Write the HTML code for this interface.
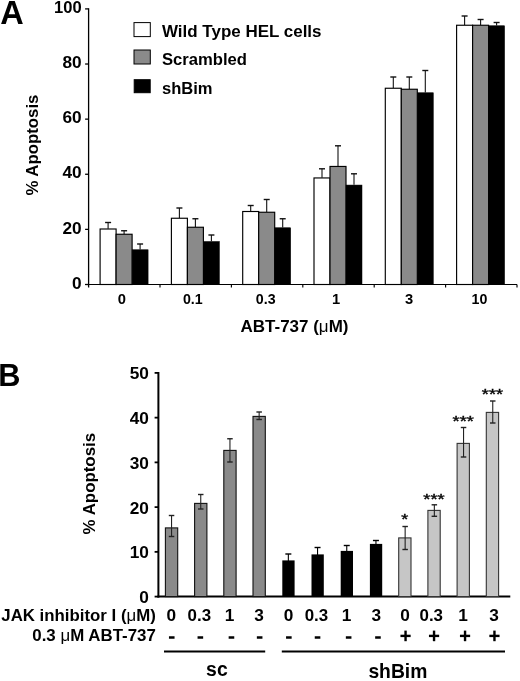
<!DOCTYPE html>
<html lang="en">
<head>
<meta charset="utf-8">
<title>Figure: ABT-737 and JAK inhibitor I apoptosis in HEL cells</title>
<style>
html,body{margin:0;padding:0;background:#fff;}
body{width:520px;height:681px;overflow:hidden;}
svg{display:block;}
svg text{font-family:"Liberation Sans",sans-serif;fill:#000;}
</style>
</head>
<body>
<svg width="520" height="681" viewBox="0 0 520 681">
<rect x="0" y="0" width="520" height="681" fill="#fff" stroke="none"/>
<text x="0.2" y="23.5" font-size="32.5" font-weight="bold" text-anchor="start" >A</text>
<line x1="88.6" y1="8.3" x2="88.6" y2="287.5" stroke="#000" stroke-width="1.3"/>
<line x1="85.1" y1="284.5" x2="88.6" y2="284.5" stroke="#000" stroke-width="1.3"/>
<text x="81.6" y="288.7" font-size="16.3" font-weight="bold" text-anchor="end" textLength="9.6" lengthAdjust="spacingAndGlyphs" >0</text>
<line x1="85.1" y1="229.38" x2="88.6" y2="229.38" stroke="#000" stroke-width="1.3"/>
<text x="81.6" y="233.57999999999998" font-size="16.3" font-weight="bold" text-anchor="end" textLength="19.2" lengthAdjust="spacingAndGlyphs" >20</text>
<line x1="85.1" y1="174.26" x2="88.6" y2="174.26" stroke="#000" stroke-width="1.3"/>
<text x="81.6" y="178.45999999999998" font-size="16.3" font-weight="bold" text-anchor="end" textLength="19.2" lengthAdjust="spacingAndGlyphs" >40</text>
<line x1="85.1" y1="119.13999999999999" x2="88.6" y2="119.13999999999999" stroke="#000" stroke-width="1.3"/>
<text x="81.6" y="123.33999999999999" font-size="16.3" font-weight="bold" text-anchor="end" textLength="19.2" lengthAdjust="spacingAndGlyphs" >60</text>
<line x1="85.1" y1="64.02000000000001" x2="88.6" y2="64.02000000000001" stroke="#000" stroke-width="1.3"/>
<text x="81.6" y="68.22000000000001" font-size="16.3" font-weight="bold" text-anchor="end" textLength="19.2" lengthAdjust="spacingAndGlyphs" >80</text>
<line x1="85.1" y1="8.899999999999977" x2="88.6" y2="8.899999999999977" stroke="#000" stroke-width="1.3"/>
<text x="81.6" y="13.099999999999977" font-size="16.3" font-weight="bold" text-anchor="end" textLength="27.6" lengthAdjust="spacingAndGlyphs" >100</text>
<line x1="85.1" y1="284.5" x2="517" y2="284.5" stroke="#000" stroke-width="1.15"/>
<line x1="160.0" y1="284.5" x2="160.0" y2="287.5" stroke="#000" stroke-width="1.15"/>
<line x1="231.4" y1="284.5" x2="231.4" y2="287.5" stroke="#000" stroke-width="1.15"/>
<line x1="302.8" y1="284.5" x2="302.8" y2="287.5" stroke="#000" stroke-width="1.15"/>
<line x1="374.20000000000005" y1="284.5" x2="374.20000000000005" y2="287.5" stroke="#000" stroke-width="1.15"/>
<line x1="445.6" y1="284.5" x2="445.6" y2="287.5" stroke="#000" stroke-width="1.15"/>
<line x1="517.0" y1="284.5" x2="517.0" y2="287.5" stroke="#000" stroke-width="1.15"/>
<text transform="translate(37.7,195.6) rotate(-90)" font-size="17" font-weight="bold" textLength="101" lengthAdjust="spacingAndGlyphs">% Apoptosis</text>
<rect x="134.00" y="22.60" width="16.30" height="14.00" fill="#fff" stroke="#000" stroke-width="1"/>
<rect x="134.00" y="50.00" width="16.30" height="14.00" fill="#8a8a8a" stroke="#000" stroke-width="1"/>
<rect x="134.20" y="79.70" width="16.00" height="13.00" fill="#000" stroke="#000" stroke-width="1"/>
<text x="162" y="37" font-size="16" font-weight="bold" text-anchor="start" textLength="159.5" lengthAdjust="spacingAndGlyphs" >Wild Type HEL cells</text>
<text x="162" y="65" font-size="16" font-weight="bold" text-anchor="start" textLength="85" lengthAdjust="spacingAndGlyphs" >Scrambled</text>
<text x="162" y="94" font-size="16" font-weight="bold" text-anchor="start" textLength="50.6" lengthAdjust="spacingAndGlyphs" >shBim</text>
<line x1="108.1" y1="222.5" x2="108.1" y2="228.75" stroke="#111" stroke-width="1.1"/>
<line x1="105.1" y1="222.5" x2="111.1" y2="222.5" stroke="#111" stroke-width="1.4000000000000001"/>
<rect x="100.10" y="229.00" width="16.00" height="55.50" fill="#fff" stroke="#000" stroke-width="1.15"/>
<line x1="124.1" y1="230.75" x2="124.1" y2="234" stroke="#111" stroke-width="1.1"/>
<line x1="121.1" y1="230.75" x2="127.1" y2="230.75" stroke="#111" stroke-width="1.4000000000000001"/>
<rect x="116.10" y="234.25" width="16.00" height="50.25" fill="#8a8a8a" stroke="#000" stroke-width="1.15"/>
<line x1="140.1" y1="244" x2="140.1" y2="249.5" stroke="#111" stroke-width="1.1"/>
<line x1="137.1" y1="244" x2="143.1" y2="244" stroke="#111" stroke-width="1.4000000000000001"/>
<rect x="132.10" y="249.75" width="16.00" height="34.75" fill="#000" stroke="#000" stroke-width="0.5"/>
<line x1="179.39999999999998" y1="208" x2="179.39999999999998" y2="218" stroke="#111" stroke-width="1.1"/>
<line x1="176.39999999999998" y1="208" x2="182.39999999999998" y2="208" stroke="#111" stroke-width="1.4000000000000001"/>
<rect x="171.40" y="218.25" width="16.00" height="66.25" fill="#fff" stroke="#000" stroke-width="1.15"/>
<line x1="195.39999999999998" y1="218.75" x2="195.39999999999998" y2="227" stroke="#111" stroke-width="1.1"/>
<line x1="192.39999999999998" y1="218.75" x2="198.39999999999998" y2="218.75" stroke="#111" stroke-width="1.4000000000000001"/>
<rect x="187.40" y="227.25" width="16.00" height="57.25" fill="#8a8a8a" stroke="#000" stroke-width="1.15"/>
<line x1="211.39999999999998" y1="235" x2="211.39999999999998" y2="241.25" stroke="#111" stroke-width="1.1"/>
<line x1="208.39999999999998" y1="235" x2="214.39999999999998" y2="235" stroke="#111" stroke-width="1.4000000000000001"/>
<rect x="203.40" y="241.50" width="16.00" height="43.00" fill="#000" stroke="#000" stroke-width="0.5"/>
<line x1="250.7" y1="205.5" x2="250.7" y2="211.25" stroke="#111" stroke-width="1.1"/>
<line x1="247.7" y1="205.5" x2="253.7" y2="205.5" stroke="#111" stroke-width="1.4000000000000001"/>
<rect x="242.70" y="211.50" width="16.00" height="73.00" fill="#fff" stroke="#000" stroke-width="1.15"/>
<line x1="266.7" y1="199.5" x2="266.7" y2="212" stroke="#111" stroke-width="1.1"/>
<line x1="263.7" y1="199.5" x2="269.7" y2="199.5" stroke="#111" stroke-width="1.4000000000000001"/>
<rect x="258.70" y="212.25" width="16.00" height="72.25" fill="#8a8a8a" stroke="#000" stroke-width="1.15"/>
<line x1="282.7" y1="218.75" x2="282.7" y2="227.5" stroke="#111" stroke-width="1.1"/>
<line x1="279.7" y1="218.75" x2="285.7" y2="218.75" stroke="#111" stroke-width="1.4000000000000001"/>
<rect x="274.70" y="227.75" width="16.00" height="56.75" fill="#000" stroke="#000" stroke-width="0.5"/>
<line x1="322.0" y1="168.8" x2="322.0" y2="177.7" stroke="#111" stroke-width="1.1"/>
<line x1="319.0" y1="168.8" x2="325.0" y2="168.8" stroke="#111" stroke-width="1.4000000000000001"/>
<rect x="314.00" y="177.95" width="16.00" height="106.55" fill="#fff" stroke="#000" stroke-width="1.15"/>
<line x1="338.0" y1="145.8" x2="338.0" y2="166.2" stroke="#111" stroke-width="1.1"/>
<line x1="335.0" y1="145.8" x2="341.0" y2="145.8" stroke="#111" stroke-width="1.4000000000000001"/>
<rect x="330.00" y="166.45" width="16.00" height="118.05" fill="#8a8a8a" stroke="#000" stroke-width="1.15"/>
<line x1="354.0" y1="173.8" x2="354.0" y2="184.8" stroke="#111" stroke-width="1.1"/>
<line x1="351.0" y1="173.8" x2="357.0" y2="173.8" stroke="#111" stroke-width="1.4000000000000001"/>
<rect x="346.00" y="185.05" width="16.00" height="99.45" fill="#000" stroke="#000" stroke-width="0.5"/>
<line x1="393.29999999999995" y1="77" x2="393.29999999999995" y2="88" stroke="#111" stroke-width="1.1"/>
<line x1="390.29999999999995" y1="77" x2="396.29999999999995" y2="77" stroke="#111" stroke-width="1.4000000000000001"/>
<rect x="385.30" y="88.25" width="16.00" height="196.25" fill="#fff" stroke="#000" stroke-width="1.15"/>
<line x1="409.29999999999995" y1="77" x2="409.29999999999995" y2="89" stroke="#111" stroke-width="1.1"/>
<line x1="406.29999999999995" y1="77" x2="412.29999999999995" y2="77" stroke="#111" stroke-width="1.4000000000000001"/>
<rect x="401.30" y="89.25" width="16.00" height="195.25" fill="#8a8a8a" stroke="#000" stroke-width="1.15"/>
<line x1="425.29999999999995" y1="70.5" x2="425.29999999999995" y2="92.5" stroke="#111" stroke-width="1.1"/>
<line x1="422.29999999999995" y1="70.5" x2="428.29999999999995" y2="70.5" stroke="#111" stroke-width="1.4000000000000001"/>
<rect x="417.30" y="92.75" width="16.00" height="191.75" fill="#000" stroke="#000" stroke-width="0.5"/>
<line x1="464.6" y1="16" x2="464.6" y2="25" stroke="#111" stroke-width="1.1"/>
<line x1="461.6" y1="16" x2="467.6" y2="16" stroke="#111" stroke-width="1.4000000000000001"/>
<rect x="456.60" y="25.25" width="16.00" height="259.25" fill="#fff" stroke="#000" stroke-width="1.15"/>
<line x1="480.6" y1="19.5" x2="480.6" y2="25" stroke="#111" stroke-width="1.1"/>
<line x1="477.6" y1="19.5" x2="483.6" y2="19.5" stroke="#111" stroke-width="1.4000000000000001"/>
<rect x="472.60" y="25.25" width="16.00" height="259.25" fill="#8a8a8a" stroke="#000" stroke-width="1.15"/>
<line x1="496.6" y1="22.5" x2="496.6" y2="25.5" stroke="#111" stroke-width="1.1"/>
<line x1="493.6" y1="22.5" x2="499.6" y2="22.5" stroke="#111" stroke-width="1.4000000000000001"/>
<rect x="488.60" y="25.75" width="16.00" height="258.75" fill="#000" stroke="#000" stroke-width="0.5"/>
<text x="121.9" y="304.1" font-size="14" font-weight="bold" text-anchor="middle" textLength="8.2" lengthAdjust="spacingAndGlyphs" >0</text>
<text x="192.79999999999998" y="304.1" font-size="14" font-weight="bold" text-anchor="middle" textLength="19.8" lengthAdjust="spacingAndGlyphs" >0.1</text>
<text x="265.7" y="304.1" font-size="14" font-weight="bold" text-anchor="middle" textLength="19.8" lengthAdjust="spacingAndGlyphs" >0.3</text>
<text x="336.09999999999997" y="304.1" font-size="14" font-weight="bold" text-anchor="middle" textLength="8.2" lengthAdjust="spacingAndGlyphs" >1</text>
<text x="409.1" y="304.1" font-size="14" font-weight="bold" text-anchor="middle" textLength="8.2" lengthAdjust="spacingAndGlyphs" >3</text>
<text x="479.4" y="304.1" font-size="14" font-weight="bold" text-anchor="middle" textLength="15.8" lengthAdjust="spacingAndGlyphs" >10</text>
<text x="240.5" y="332.4" font-size="16.3" font-weight="bold" text-anchor="start" textLength="108" lengthAdjust="spacingAndGlyphs" >ABT-737 (<tspan font-weight="normal">μ</tspan>M)</text>
<text x="-1.7" y="386.4" font-size="32.2" font-weight="bold" text-anchor="start" textLength="22.2" lengthAdjust="spacingAndGlyphs" >B</text>
<line x1="158.4" y1="372.0" x2="158.4" y2="597.6" stroke="#000" stroke-width="2"/>
<line x1="154.6" y1="596.6" x2="158.4" y2="596.6" stroke="#000" stroke-width="1.8"/>
<text x="148.9" y="603.0" font-size="16.3" font-weight="bold" text-anchor="end" textLength="9.6" lengthAdjust="spacingAndGlyphs" >0</text>
<line x1="154.6" y1="551.86" x2="158.4" y2="551.86" stroke="#000" stroke-width="1.8"/>
<text x="148.9" y="558.26" font-size="16.3" font-weight="bold" text-anchor="end" textLength="19.2" lengthAdjust="spacingAndGlyphs" >10</text>
<line x1="154.6" y1="507.12" x2="158.4" y2="507.12" stroke="#000" stroke-width="1.8"/>
<text x="148.9" y="513.52" font-size="16.3" font-weight="bold" text-anchor="end" textLength="19.2" lengthAdjust="spacingAndGlyphs" >20</text>
<line x1="154.6" y1="462.38" x2="158.4" y2="462.38" stroke="#000" stroke-width="1.8"/>
<text x="148.9" y="468.78" font-size="16.3" font-weight="bold" text-anchor="end" textLength="19.2" lengthAdjust="spacingAndGlyphs" >30</text>
<line x1="154.6" y1="417.64" x2="158.4" y2="417.64" stroke="#000" stroke-width="1.8"/>
<text x="148.9" y="424.03999999999996" font-size="16.3" font-weight="bold" text-anchor="end" textLength="19.2" lengthAdjust="spacingAndGlyphs" >40</text>
<line x1="154.6" y1="372.9" x2="158.4" y2="372.9" stroke="#000" stroke-width="1.8"/>
<text x="148.9" y="379.29999999999995" font-size="16.3" font-weight="bold" text-anchor="end" textLength="19.2" lengthAdjust="spacingAndGlyphs" >50</text>
<line x1="157.5" y1="596.6" x2="510.3" y2="596.6" stroke="#000" stroke-width="2"/>
<text transform="translate(94.9,534.4) rotate(-90)" font-size="17" font-weight="bold" textLength="101.5" lengthAdjust="spacingAndGlyphs">% Apoptosis</text>
<rect x="165.40" y="527.90" width="12.30" height="68.70" fill="#8a8a8a" stroke="#111" stroke-width="1.1"/>
<line x1="171.55" y1="515.5" x2="171.55" y2="536.5" stroke="#222" stroke-width="1.1"/>
<line x1="168.8" y1="515.5" x2="174.3" y2="515.5" stroke="#222" stroke-width="1.4000000000000001"/>
<line x1="168.8" y1="536.5" x2="174.3" y2="536.5" stroke="#222" stroke-width="1.4000000000000001"/>
<text x="171.25" y="620.7" font-size="16.3" font-weight="bold" text-anchor="middle" textLength="9.6" lengthAdjust="spacingAndGlyphs" >0</text>
<line x1="168.95" y1="637.5" x2="174.55" y2="637.5" stroke="#000" stroke-width="2.5"/>
<rect x="194.60" y="503.40" width="12.30" height="93.20" fill="#8a8a8a" stroke="#111" stroke-width="1.1"/>
<line x1="200.75" y1="494.5" x2="200.75" y2="509" stroke="#222" stroke-width="1.1"/>
<line x1="198.0" y1="494.5" x2="203.5" y2="494.5" stroke="#222" stroke-width="1.4000000000000001"/>
<line x1="198.0" y1="509" x2="203.5" y2="509" stroke="#222" stroke-width="1.4000000000000001"/>
<text x="199.35" y="620.7" font-size="16.3" font-weight="bold" text-anchor="middle" textLength="23.5" lengthAdjust="spacingAndGlyphs" >0.3</text>
<line x1="197.54999999999998" y1="637.5" x2="203.15" y2="637.5" stroke="#000" stroke-width="2.5"/>
<rect x="223.80" y="450.40" width="12.30" height="146.20" fill="#8a8a8a" stroke="#111" stroke-width="1.1"/>
<line x1="229.95000000000002" y1="438.75" x2="229.95000000000002" y2="462" stroke="#222" stroke-width="1.1"/>
<line x1="227.20000000000002" y1="438.75" x2="232.70000000000002" y2="438.75" stroke="#222" stroke-width="1.4000000000000001"/>
<line x1="227.20000000000002" y1="462" x2="232.70000000000002" y2="462" stroke="#222" stroke-width="1.4000000000000001"/>
<text x="229.65" y="620.7" font-size="16.3" font-weight="bold" text-anchor="middle" textLength="9.6" lengthAdjust="spacingAndGlyphs" >1</text>
<line x1="228.65" y1="637.5" x2="234.25000000000003" y2="637.5" stroke="#000" stroke-width="2.5"/>
<rect x="253.00" y="416.40" width="12.30" height="180.20" fill="#8a8a8a" stroke="#111" stroke-width="1.1"/>
<line x1="259.15" y1="412" x2="259.15" y2="419.5" stroke="#222" stroke-width="1.1"/>
<line x1="256.4" y1="412" x2="261.9" y2="412" stroke="#222" stroke-width="1.4000000000000001"/>
<line x1="256.4" y1="419.5" x2="261.9" y2="419.5" stroke="#222" stroke-width="1.4000000000000001"/>
<text x="259.15" y="620.7" font-size="16.3" font-weight="bold" text-anchor="middle" textLength="9.6" lengthAdjust="spacingAndGlyphs" >3</text>
<line x1="256.84999999999997" y1="637.5" x2="262.45" y2="637.5" stroke="#000" stroke-width="2.5"/>
<line x1="288.34999999999997" y1="554" x2="288.34999999999997" y2="561.5" stroke="#000" stroke-width="1.1"/>
<line x1="285.34999999999997" y1="554" x2="291.34999999999997" y2="554" stroke="#000" stroke-width="1.4000000000000001"/>
<rect x="282.30" y="560.40" width="12.30" height="36.20" fill="#000" stroke="none" stroke-width="0"/>
<text x="288.45" y="620.7" font-size="16.3" font-weight="bold" text-anchor="middle" textLength="9.6" lengthAdjust="spacingAndGlyphs" >0</text>
<line x1="286.04999999999995" y1="637.5" x2="291.65" y2="637.5" stroke="#000" stroke-width="2.5"/>
<line x1="317.54999999999995" y1="547.5" x2="317.54999999999995" y2="555.5" stroke="#000" stroke-width="1.1"/>
<line x1="314.54999999999995" y1="547.5" x2="320.54999999999995" y2="547.5" stroke="#000" stroke-width="1.4000000000000001"/>
<rect x="311.50" y="554.40" width="12.30" height="42.20" fill="#000" stroke="none" stroke-width="0"/>
<text x="316.44999999999993" y="620.7" font-size="16.3" font-weight="bold" text-anchor="middle" textLength="23.5" lengthAdjust="spacingAndGlyphs" >0.3</text>
<line x1="314.74999999999994" y1="637.5" x2="320.34999999999997" y2="637.5" stroke="#000" stroke-width="2.5"/>
<line x1="346.75" y1="545.5" x2="346.75" y2="552" stroke="#000" stroke-width="1.1"/>
<line x1="343.75" y1="545.5" x2="349.75" y2="545.5" stroke="#000" stroke-width="1.4000000000000001"/>
<rect x="340.70" y="550.90" width="12.30" height="45.70" fill="#000" stroke="none" stroke-width="0"/>
<text x="346.55" y="620.7" font-size="16.3" font-weight="bold" text-anchor="middle" textLength="9.6" lengthAdjust="spacingAndGlyphs" >1</text>
<line x1="345.84999999999997" y1="637.5" x2="351.45" y2="637.5" stroke="#000" stroke-width="2.5"/>
<line x1="375.95" y1="540.5" x2="375.95" y2="545" stroke="#000" stroke-width="1.1"/>
<line x1="372.95" y1="540.5" x2="378.95" y2="540.5" stroke="#000" stroke-width="1.4000000000000001"/>
<rect x="369.90" y="543.90" width="12.30" height="52.70" fill="#000" stroke="none" stroke-width="0"/>
<text x="376.34999999999997" y="620.7" font-size="16.3" font-weight="bold" text-anchor="middle" textLength="9.6" lengthAdjust="spacingAndGlyphs" >3</text>
<line x1="375.15" y1="637.5" x2="380.75" y2="637.5" stroke="#000" stroke-width="2.5"/>
<rect x="398.70" y="537.90" width="12.30" height="58.70" fill="#c6c6c6" stroke="#333" stroke-width="1.1"/>
<line x1="405.15" y1="526.5" x2="405.15" y2="549.5" stroke="#222" stroke-width="1.1"/>
<line x1="402.4" y1="526.5" x2="407.9" y2="526.5" stroke="#222" stroke-width="1.4000000000000001"/>
<line x1="402.4" y1="549.5" x2="407.9" y2="549.5" stroke="#222" stroke-width="1.4000000000000001"/>
<text x="404.95" y="620.7" font-size="16.3" font-weight="bold" text-anchor="middle" textLength="9.6" lengthAdjust="spacingAndGlyphs" >0</text>
<line x1="400.44999999999993" y1="635.9" x2="410.65" y2="635.9" stroke="#000" stroke-width="2.4"/>
<line x1="405.54999999999995" y1="630.6" x2="405.54999999999995" y2="641.2" stroke="#000" stroke-width="2.4"/>
<text x="404.84999999999997" y="524" font-size="15.5" font-weight="normal" text-anchor="middle" textLength="7" lengthAdjust="spacingAndGlyphs" stroke="#000" stroke-width="0.4">*</text>
<rect x="427.90" y="510.40" width="12.30" height="86.20" fill="#c6c6c6" stroke="#333" stroke-width="1.1"/>
<line x1="434.35" y1="504.8" x2="434.35" y2="516.3" stroke="#222" stroke-width="1.1"/>
<line x1="431.6" y1="504.8" x2="437.1" y2="504.8" stroke="#222" stroke-width="1.4000000000000001"/>
<line x1="431.6" y1="516.3" x2="437.1" y2="516.3" stroke="#222" stroke-width="1.4000000000000001"/>
<text x="431.25" y="620.7" font-size="16.3" font-weight="bold" text-anchor="middle" textLength="23.5" lengthAdjust="spacingAndGlyphs" >0.3</text>
<line x1="428.95" y1="635.9" x2="439.15000000000003" y2="635.9" stroke="#000" stroke-width="2.4"/>
<line x1="434.05" y1="630.6" x2="434.05" y2="641.2" stroke="#000" stroke-width="2.4"/>
<text x="434.05" y="504" font-size="15.5" font-weight="normal" text-anchor="middle" textLength="21.4" lengthAdjust="spacingAndGlyphs" stroke="#000" stroke-width="0.4">***</text>
<rect x="457.10" y="443.40" width="12.30" height="153.20" fill="#c6c6c6" stroke="#333" stroke-width="1.1"/>
<line x1="463.54999999999995" y1="427.5" x2="463.54999999999995" y2="457" stroke="#222" stroke-width="1.1"/>
<line x1="460.79999999999995" y1="427.5" x2="466.29999999999995" y2="427.5" stroke="#222" stroke-width="1.4000000000000001"/>
<line x1="460.79999999999995" y1="457" x2="466.29999999999995" y2="457" stroke="#222" stroke-width="1.4000000000000001"/>
<text x="463.04999999999995" y="620.7" font-size="16.3" font-weight="bold" text-anchor="middle" textLength="9.6" lengthAdjust="spacingAndGlyphs" >1</text>
<line x1="459.94999999999993" y1="635.9" x2="470.15" y2="635.9" stroke="#000" stroke-width="2.4"/>
<line x1="465.04999999999995" y1="630.6" x2="465.04999999999995" y2="641.2" stroke="#000" stroke-width="2.4"/>
<text x="463.24999999999994" y="426" font-size="15.5" font-weight="normal" text-anchor="middle" textLength="21.4" lengthAdjust="spacingAndGlyphs" stroke="#000" stroke-width="0.4">***</text>
<rect x="486.30" y="412.40" width="12.30" height="184.20" fill="#c6c6c6" stroke="#333" stroke-width="1.1"/>
<line x1="492.75" y1="401" x2="492.75" y2="423" stroke="#222" stroke-width="1.1"/>
<line x1="490.0" y1="401" x2="495.5" y2="401" stroke="#222" stroke-width="1.4000000000000001"/>
<line x1="490.0" y1="423" x2="495.5" y2="423" stroke="#222" stroke-width="1.4000000000000001"/>
<text x="494.05" y="620.7" font-size="16.3" font-weight="bold" text-anchor="middle" textLength="9.6" lengthAdjust="spacingAndGlyphs" >3</text>
<line x1="489.34999999999997" y1="635.9" x2="499.55" y2="635.9" stroke="#000" stroke-width="2.4"/>
<line x1="494.45" y1="630.6" x2="494.45" y2="641.2" stroke="#000" stroke-width="2.4"/>
<text x="492.45" y="399" font-size="15.5" font-weight="normal" text-anchor="middle" textLength="21.4" lengthAdjust="spacingAndGlyphs" stroke="#000" stroke-width="0.4">***</text>
<text x="1.3" y="620.7" font-size="16.3" font-weight="bold" text-anchor="start" textLength="154.5" lengthAdjust="spacingAndGlyphs" >JAK inhibitor I (<tspan font-weight="normal">μ</tspan>M)</text>
<text x="32.3" y="640.6" font-size="16.3" font-weight="bold" text-anchor="start" textLength="123.5" lengthAdjust="spacingAndGlyphs" >0.3 <tspan font-weight="normal">μ</tspan>M ABT-737</text>
<line x1="164" y1="651.5" x2="265.2" y2="651.5" stroke="#000" stroke-width="2"/>
<line x1="281.8" y1="651.5" x2="505" y2="651.5" stroke="#000" stroke-width="2"/>
<text x="206.1" y="675.9" font-size="19.4" font-weight="bold" text-anchor="start" >sc</text>
<text x="368.4" y="677.9" font-size="19.3" font-weight="bold" text-anchor="start" >shBim</text>
</svg>
</body>
</html>
